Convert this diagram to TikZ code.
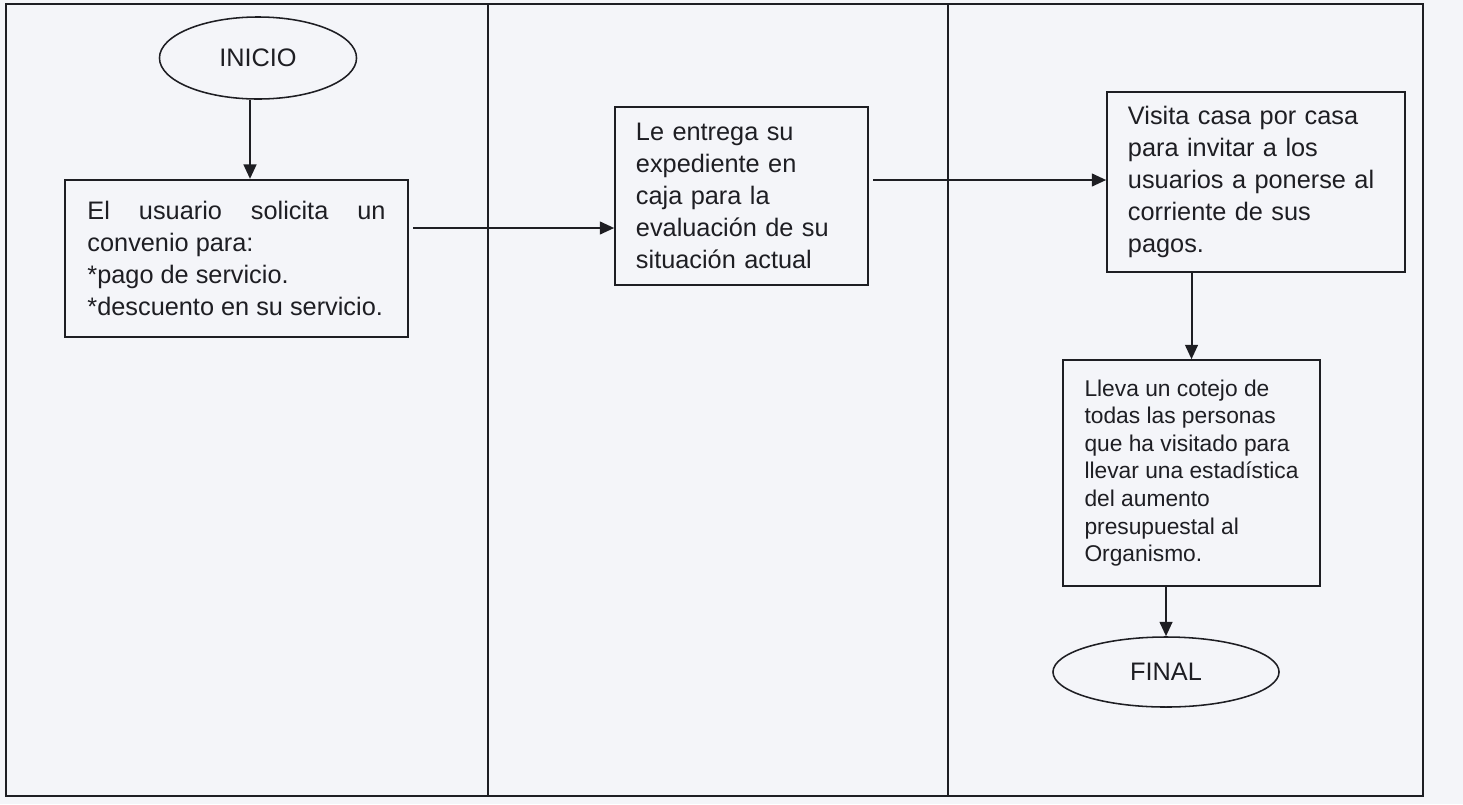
\documentclass[tikz,border=0pt]{standalone}
\usepackage{fontspec}
\setmainfont{Liberation Sans}
\usepackage{tikz}
\usetikzlibrary{arrows.meta, positioning, shapes.geometric, calc}
\definecolor{paper}{RGB}{244,245,249}
\definecolor{ink}{RGB}{30,30,35}
\hyphenpenalty=10000
\tolerance=10000

\begin{document}
\begin{tikzpicture}[x=0.025cm, y=-0.025cm, >={Triangle[length=0.36cm,width=0.32cm]},
  line width=1.1pt, draw=ink, text=ink, every node/.style={inner sep=0pt},
  big/.style={font=\fontsize{18}{22.8}\selectfont},
  small/.style={font=\fontsize{16.2}{19.6}\selectfont},
  proc/.style={draw=ink, line width=1.1pt, align=left, inner xsep=0.5cm},
  term/.style={draw=ink, ellipse, line width=1.1pt, big},
  flow/.style={->, draw=ink, line width=1.4pt}]
  \useasboundingbox (0,0) rectangle (1463,804);
  \fill[paper] (0,0) rectangle (1463,804);
  % --- lanes ---
  \draw[ink] (6,4) rectangle (1423,796);
  \draw[ink] (488,4) -- (488,796);
  \draw[ink] (948,4) -- (948,796);
  % --- lane 1 ---
  \node[term, minimum width=4.925cm, minimum height=2.05cm] (inicio) at (258,58) {INICIO};
  \node[proc, big, line width=1.6pt, align=justify, text width=7.45cm,
        minimum width=8.575cm, minimum height=3.925cm] (sol) at (236.5,258.5)
    {El usuario solicita un convenio para:\\{}*pago de servicio.\\{}*descuento en su servicio.};
  % --- lane 2 ---
  \node[proc, big, text width=5.275cm, inner xsep=0.525cm,
        minimum width=6.325cm, minimum height=4.45cm] (caja) at (741.5,196)
    {Le entrega su\\expediente en\\caja para la\\evaluación de su\\situación actual};
  % --- lane 3 ---
  \node[proc, big, text width=6.4cm, inner xsep=0.525cm,
        minimum width=7.45cm, minimum height=4.5cm] (visita) at (1256,182)
    {Visita casa por casa\\para invitar a los\\usuarios a ponerse al\\corriente de sus\\pagos.};
  \node[proc, small, minimum width=6.425cm, minimum height=5.65cm] (cotejo) at (1191.5,473)
    {Lleva un cotejo de\\todas las personas\\que ha visitado para\\llevar una estadística\\del aumento\\presupuestal al\\Organismo.};
  \node[term, minimum width=5.65cm, minimum height=1.75cm] (final) at (1166,672) {FINAL};
  % --- flow ---
  \coordinate (t12) at (413,228);
  \coordinate (t23) at (873,180);
  \draw[flow] ([xshift=-0.2cm]inicio.south) -- ([xshift=-0.2cm]inicio.south |- sol.north);
  \draw[flow] (t12) -- (t12 -| caja.west);
  \draw[flow] (t23) -- (t23 -| visita.west);
  \draw[flow] (visita.south -| cotejo.north) -- (cotejo.north);
  \draw[flow] (cotejo.south -| final.north) -- (final.north);
\end{tikzpicture}
\end{document}
